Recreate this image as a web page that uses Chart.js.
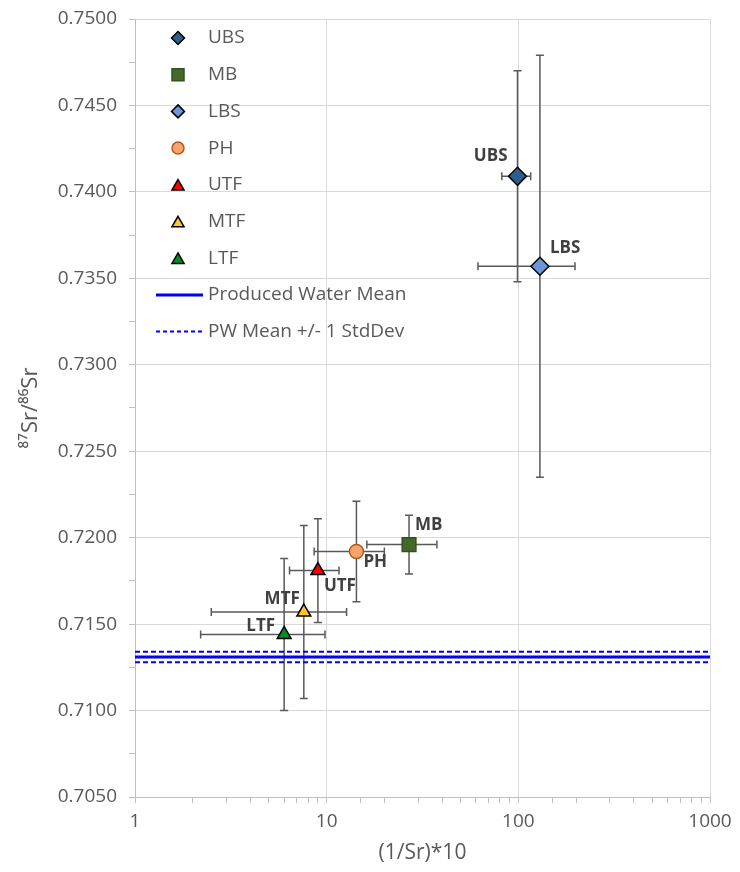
<!DOCTYPE html>
<html>
<head>
<meta charset="utf-8">
<script src="https://cdn.jsdelivr.net/npm/chart.js@4.4.1/dist/chart.umd.min.js"></script>
<style>
  html, body { margin: 0; padding: 0; background: #fff; }
  #wrap { width: 740px; height: 872px; }
</style>
</head>
<body>
<div id="wrap"><canvas id="srChart"></canvas></div>
<script>
// data
const groups = ['UBS', 'MB', 'LBS', 'PH', 'UTF', 'MTF', 'LTF'];
const xValues = [99, 26.9, 129.6, 14.3, 9.0, 7.6, 6.0];
const yValues = [0.7409, 0.7196, 0.7357, 0.7192, 0.7181, 0.7157, 0.7144];
const xErrors = [17, 10.7, 68, 5.7, 2.6, 5.1, 3.8];
const yErrors = [0.0061, 0.0017, 0.0122, 0.0029, 0.0030, 0.0050, 0.0044];
const pwMean = 0.7131;
const pwStdDev = 0.0003;
const xRange = [1, 1000];
const yRange = [0.7050, 0.7500];

// marker looks
const markers = {
  UBS: { style: 'rectRot', r: 9, fill: '#2c5f8e', line: '#000000', lr: 6.5 },
  MB:  { style: 'rect', r: 9.7, fill: '#43682b', line: '#33521f', lr: 8.5 },
  LBS: { style: 'rectRot', r: 9, fill: '#6c96d8', line: '#000000', lr: 6.5 },
  PH:  { style: 'circle', r: 7, fill: '#f4a46c', line: '#b8581a', lr: 6 },
  UTF: { style: 'triangle', r: 8, fill: '#ff0000', line: '#000000', lr: 7 },
  MTF: { style: 'triangle', r: 8, fill: '#ffc52a', line: '#000000', lr: 7 },
  LTF: { style: 'triangle', r: 8, fill: '#008a2e', line: '#000000', lr: 7 }
};
// where each point label sits relative to its marker
const labelPlace = {
  UBS: [-10, -20, 'right'], LBS: [10, -18, 'left'], MB: [6, -19, 'left'],
  PH: [7, 11, 'left'], UTF: [6, 16, 'left'], MTF: [-4, -13, 'right'], LTF: [-9, -8, 'right']
};

const FONT = "'Open Sans', 'DejaVu Sans', sans-serif";
const TEXT = '#595959';

const datasets = groups.map((g, i) => ({
  label: g,
  type: 'scatter',
  data: [{ x: xValues[i], y: yValues[i] }],
  pointStyle: markers[g].style,
  pointRadius: markers[g].r,
  pointHoverRadius: markers[g].r,
  backgroundColor: markers[g].fill,
  borderColor: markers[g].line,
  borderWidth: 1.5
}));

function hLine(label, yv, width, dash) {
  return {
    label: label,
    type: 'line',
    data: [{ x: xRange[0], y: yv }, { x: xRange[1], y: yv }],
    borderColor: '#0000ff',
    borderWidth: width,
    borderDash: dash,
    pointRadius: 0,
    fill: false
  };
}
datasets.push(hLine('Produced Water Mean', pwMean, 3, []));
datasets.push(hLine('PW Mean +/- 1 StdDev', pwMean + pwStdDev, 2, [5, 3]));
datasets.push(hLine('PW Mean +/- 1 StdDev (low)', pwMean - pwStdDev, 2, [5, 3]));

// error bars under the markers, point labels on top
const errorBars = {
  id: 'errorBars',
  beforeDatasetsDraw(chart) {
    const { ctx, scales: { x, y } } = chart;
    const cap = 4;
    ctx.save();
    ctx.strokeStyle = '#595959';
    ctx.lineWidth = 1.5;
    groups.forEach((g, i) => {
      const cx = x.getPixelForValue(xValues[i]);
      const cy = y.getPixelForValue(yValues[i]);
      const xl = x.getPixelForValue(xValues[i] - xErrors[i]);
      const xr = x.getPixelForValue(xValues[i] + xErrors[i]);
      const yt = y.getPixelForValue(yValues[i] + yErrors[i]);
      const yb = y.getPixelForValue(yValues[i] - yErrors[i]);
      ctx.beginPath();
      ctx.moveTo(xl, cy); ctx.lineTo(xr, cy);
      ctx.moveTo(xl, cy - cap); ctx.lineTo(xl, cy + cap);
      ctx.moveTo(xr, cy - cap); ctx.lineTo(xr, cy + cap);
      ctx.moveTo(cx, yt); ctx.lineTo(cx, yb);
      ctx.moveTo(cx - cap, yt); ctx.lineTo(cx + cap, yt);
      ctx.moveTo(cx - cap, yb); ctx.lineTo(cx + cap, yb);
      ctx.stroke();
    });
    ctx.restore();
  },
  afterDatasetsDraw(chart) {
    const { ctx, scales: { x, y } } = chart;
    ctx.save();
    ctx.font = 'bold 17px ' + FONT;
    ctx.fillStyle = '#404040';
    ctx.textBaseline = 'middle';
    groups.forEach((g, i) => {
      const p = labelPlace[g];
      ctx.textAlign = p[2];
      ctx.fillText(g, x.getPixelForValue(xValues[i]) + p[0], y.getPixelForValue(yValues[i]) + p[1]);
    });
    ctx.restore();
  }
};

function drawMarker(ctx, m, cx, cy) {
  const r = m.lr;
  ctx.beginPath();
  if (m.style === 'rectRot') {
    ctx.moveTo(cx, cy - r); ctx.lineTo(cx + r, cy); ctx.lineTo(cx, cy + r); ctx.lineTo(cx - r, cy);
    ctx.closePath();
  } else if (m.style === 'rect') {
    const s = r * Math.SQRT1_2;
    ctx.rect(cx - s, cy - s, 2 * s, 2 * s);
  } else if (m.style === 'circle') {
    ctx.arc(cx, cy, r, 0, Math.PI * 2);
  } else {
    for (let k = 0; k < 3; k++) {
      const a = k * 2 * Math.PI / 3;
      const px = cx + Math.sin(a) * r, py = cy - Math.cos(a) * r + r * 0.25;
      if (k === 0) ctx.moveTo(px, py); else ctx.lineTo(px, py);
    }
    ctx.closePath();
  }
  ctx.fillStyle = m.fill;
  ctx.fill();
  ctx.lineWidth = 1.5;
  ctx.strokeStyle = m.line;
  ctx.stroke();
}

// legend inside the plot, top-left
const innerLegend = {
  id: 'innerLegend',
  afterDraw(chart) {
    const ctx = chart.ctx;
    const rowY = (k) => 38 + k * 36.7;
    ctx.save();
    ctx.font = '19px ' + FONT;
    ctx.textBaseline = 'middle';
    ctx.textAlign = 'left';
    groups.forEach((g, k) => {
      drawMarker(ctx, markers[g], 178, rowY(k));
      ctx.fillStyle = TEXT;
      ctx.fillText(g, 208, rowY(k));
    });
    const lines = [['Produced Water Mean', 3, []], ['PW Mean +/- 1 StdDev', 2, [4, 3]]];
    lines.forEach((l, j) => {
      const yy = rowY(groups.length + j);
      ctx.beginPath();
      ctx.setLineDash(l[2]);
      ctx.lineWidth = l[1];
      ctx.strokeStyle = '#0000ff';
      ctx.moveTo(156, yy); ctx.lineTo(203, yy);
      ctx.stroke();
      ctx.setLineDash([]);
      ctx.fillStyle = TEXT;
      ctx.fillText(l[0], 208, yy);
    });
    ctx.restore();
  }
};

const isDecade = (v) => Math.abs(Math.log10(v) - Math.round(Math.log10(v))) < 1e-9;
const isMajorY = (v) => Math.round(v * 10000) % 50 === 0;

new Chart(document.getElementById('srChart'), {
  type: 'scatter',
  data: { datasets: datasets },
  options: {
    responsive: true,
    maintainAspectRatio: false,
    animation: false,
    layout: { padding: { top: 19, right: 30, left: 0, bottom: 0 } },
    plugins: {
      legend: { display: false },
      tooltip: { enabled: false }
    },
    scales: {
      x: {
        type: 'logarithmic',
        min: xRange[0],
        max: xRange[1],
        afterFit: (s) => { s.height = 75; s.paddingLeft = 0; s.paddingRight = 0; },
        border: { color: '#bfbfbf', width: 1 },
        grid: {
          color: (c) => (c.tick && isDecade(c.tick.value)) ? '#d9d9d9' : 'rgba(0,0,0,0)',
          tickColor: '#bfbfbf',
          tickLength: 6,
          lineWidth: 1
        },
        ticks: {
          autoSkip: false,
          maxRotation: 0,
          color: TEXT,
          font: { family: FONT, size: 19 },
          padding: 7,
          callback: (v) => isDecade(v) ? String(Math.round(v)) : ''
        },
        title: {
          display: true,
          text: '(1/Sr)*10',
          color: TEXT,
          font: { family: FONT, size: 21 },
          padding: { top: 0, bottom: 6 }
        }
      },
      y: {
        min: yRange[0],
        max: yRange[1],
        afterFit: (s) => { s.width = 135; s.paddingTop = 0; s.paddingBottom = 0; },
        border: { color: '#bfbfbf', width: 1 },
        grid: {
          color: (c) => (c.tick && isMajorY(c.tick.value)) ? '#d9d9d9' : 'rgba(0,0,0,0)',
          tickColor: '#bfbfbf',
          tickLength: 6,
          lineWidth: 1
        },
        ticks: {
          stepSize: 0.0025,
          autoSkip: false,
          color: TEXT,
          font: { family: FONT, size: 19 },
          padding: 12,
          callback: (v) => isMajorY(v) ? v.toFixed(4) : ''
        },
        title: {
          display: true,
          text: '⁸⁷Sr/⁸⁶Sr',
          color: TEXT,
          font: { family: FONT, size: 22 },
          padding: { top: 18, bottom: 0 }
        }
      }
    }
  },
  plugins: [errorBars, innerLegend]
});
</script>
</body>
</html>
